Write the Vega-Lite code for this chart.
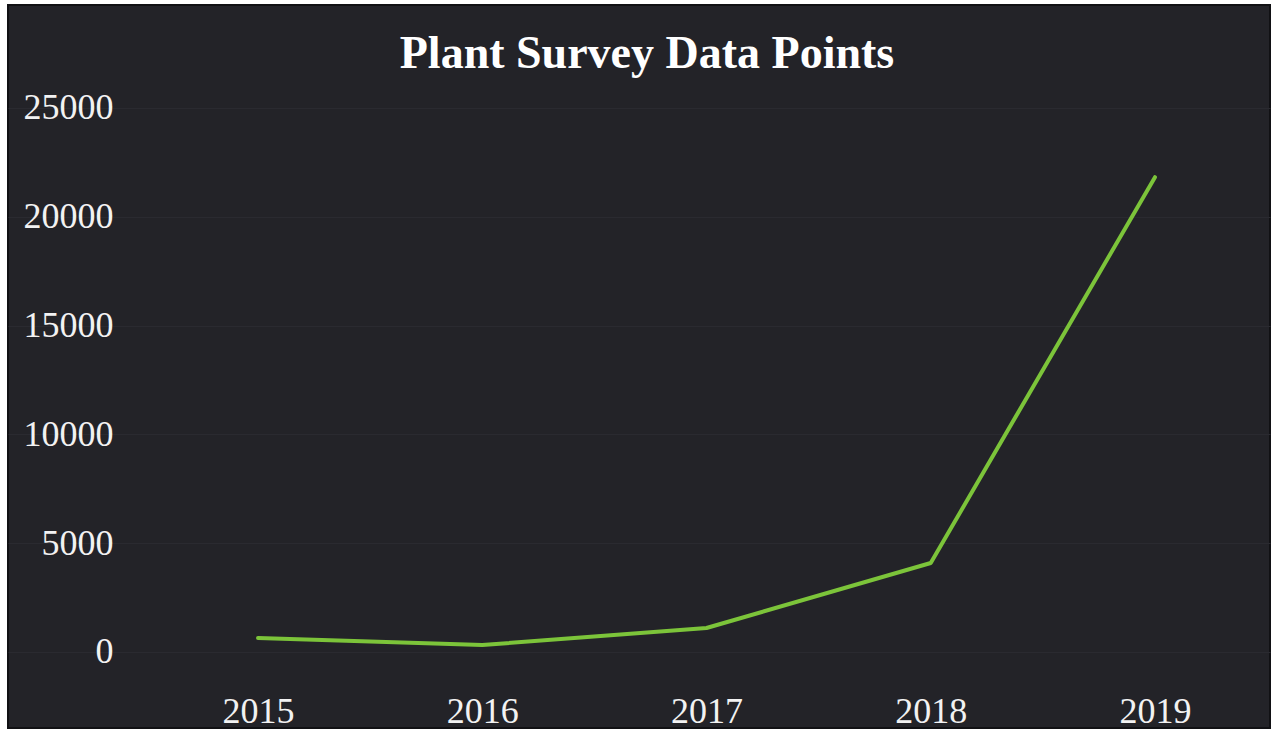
{
  "$schema": "https://vega.github.io/schema/vega-lite/v6.json",
  "width": 1262,
  "height": 723,
  "autosize": {"type": "none"},
  "padding": {"left": 8, "top": 5, "right": 7, "bottom": 6},
  "background": "#ffffff",
  "title": {
    "text": "Plant Survey Data Points",
    "orient": "top",
    "anchor": "middle",
    "frame": "group",
    "offset": -109,
    "dx": 8,
    "baseline": "alphabetic",
    "font": "Liberation Serif",
    "fontSize": 46,
    "fontWeight": "bold",
    "color": "#ffffff"
  },
  "config": {
    "view": {"fill": "#232328", "stroke": "#111114", "strokeWidth": 2},
    "axis": {
      "labelFont": "Liberation Serif",
      "labelFontSize": 36,
      "labelColor": "#f2f2f2",
      "domain": false,
      "ticks": false,
      "title": null,
      "gridColor": "#2a2a30",
      "gridWidth": 1
    }
  },
  "data": {
    "values": [
      {"year": 2015, "points": 643},
      {"year": 2016, "points": 322},
      {"year": 2017, "points": 1103},
      {"year": 2018, "points": 4090},
      {"year": 2019, "points": 21820}
    ]
  },
  "mark": {"type": "line", "color": "#7cc43a", "strokeWidth": 4, "strokeCap": "round", "strokeJoin": "round"},
  "encoding": {
    "x": {
      "field": "year",
      "type": "quantitative",
      "scale": {"domain": [2013.885, 2019.513], "nice": false, "zero": false},
      "axis": {
        "values": [2015, 2016, 2017, 2018, 2019],
        "format": "d",
        "grid": false,
        "orient": "bottom",
        "offset": -34,
        "labelPadding": 0,
        "labelBaseline": "top",
        "labelFlush": false
      }
    },
    "y": {
      "field": "points",
      "type": "quantitative",
      "scale": {"domain": [-3493, 29733], "nice": false, "zero": false},
      "axis": {
        "values": [0, 5000, 10000, 15000, 20000, 25000],
        "format": "d",
        "grid": true,
        "orient": "left",
        "offset": -107,
        "labelPadding": 2,
        "labelBaseline": "middle",
        "labelFlush": false
      }
    }
  }
}
